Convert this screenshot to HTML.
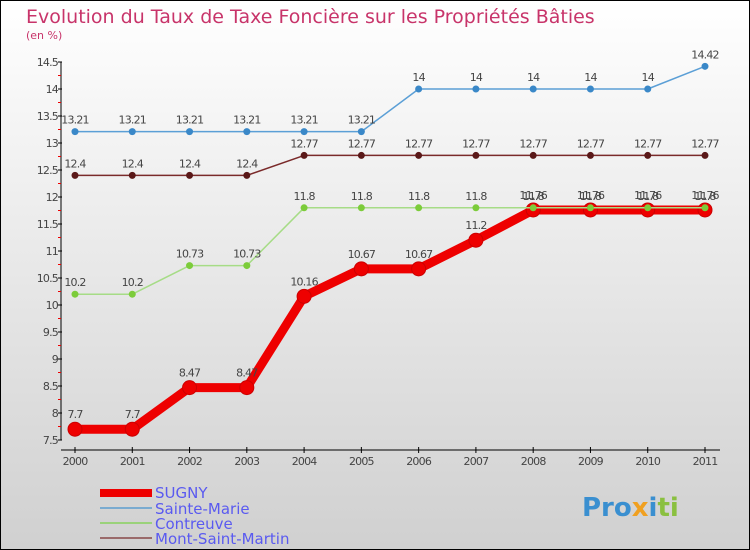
<!DOCTYPE html>
<html><head><meta charset="utf-8"><style>
body{margin:0}
svg{display:block;font-family:"DejaVu Sans","Liberation Sans",sans-serif}
</style></head><body>
<svg width="750" height="550" viewBox="0 0 750 550">
<defs><linearGradient id="bg" x1="0" y1="0" x2="0" y2="1"><stop offset="0" stop-color="#ffffff"/><stop offset="1" stop-color="#d0d0d0"/></linearGradient></defs>
<rect x="0.5" y="0.5" width="749" height="549" fill="url(#bg)" stroke="#000"/>
<text x="26" y="23" font-size="19" fill="#c8346a">Evolution du Taux de Taxe Foncière sur les Propriétés Bâties</text>
<text x="26" y="39" font-size="11" fill="#c8346a">(en %)</text>
<g id="axes"></g>
<g id="series"></g>
<g>
<rect x="100" y="489" width="52" height="8" fill="#e00"/>
<text x="155" y="498" font-size="15" fill="#5a5af0">SUGNY</text>
<rect x="100" y="507" width="52" height="2" fill="#7aabd0"/>
<text x="155" y="514" font-size="15" fill="#5a5af0">Sainte-Marie</text>
<rect x="100" y="522" width="52" height="2" fill="#9ad27a"/>
<text x="155" y="529" font-size="15" fill="#5a5af0">Contreuve</text>
<rect x="100" y="537" width="52" height="2" fill="#9a6a6a"/>
<text x="155" y="544" font-size="15" fill="#5a5af0">Mont-Saint-Martin</text>
</g>
<g font-size="26" font-weight="bold">
<text x="582" y="516"><tspan fill="#3a8fd0">Pro</tspan><tspan fill="#f0a020">x</tspan><tspan fill="#3a8fd0">i</tspan><tspan fill="#8ac040">ti</tspan></text>
</g>
</svg>
<script>
const years=["2000","2001","2002","2003","2004","2005","2006","2007","2008","2009","2010","2011"];
const yTicks=[7.5,8,8.5,9,9.5,10,10.5,11,11.5,12,12.5,13,13.5,14,14.5];
const sugny=[7.7,7.7,8.47,8.47,10.16,10.67,10.67,11.2,11.76,11.76,11.76,11.76];
const sainteMarie=[13.21,13.21,13.21,13.21,13.21,13.21,14,14,14,14,14,14.42];
const contreuve=[10.2,10.2,10.73,10.73,11.8,11.8,11.8,11.8,11.8,11.8,11.8,11.8];
const montSaintMartin=[12.4,12.4,12.4,12.4,12.77,12.77,12.77,12.77,12.77,12.77,12.77,12.77];
const NS="http://www.w3.org/2000/svg";
const xs=i=>75+i*(630/(years.length-1));
const ys=v=>440-(v-7.5)*54;
function mk(tag,attrs,parent){const e=document.createElementNS(NS,tag);for(const k in attrs)e.setAttribute(k,attrs[k]);parent.appendChild(e);return e;}
const ax=document.getElementById('axes');
let yl=mk('line',{x1:61,y1:ys(14.5),x2:61,y2:ys(7.5),stroke:'#000'},ax);


let xl=mk('line',{x1:61,y1:450,x2:720,y2:450,stroke:'#000'},ax);


yTicks.forEach(v=>{
 mk('line',{x1:58,y1:ys(v),x2:62,y2:ys(v),stroke:'#000'},ax);
 if(v<14.5)mk('line',{x1:58,y1:ys(v+0.25),x2:61,y2:ys(v+0.25),stroke:'#e00'},ax);
 const t=mk('text',{x:58,y:ys(v)+4,'font-size':11,fill:'#444','text-anchor':'end','letter-spacing':'-0.8'},ax);
 t.textContent=String(v);
 
 
});
years.forEach((y,i)=>{
 mk('line',{x1:xs(i),y1:447,x2:xs(i),y2:453,stroke:'#000'},ax);
 const t=mk('text',{x:xs(i),y:465,'font-size':11,fill:'#444','text-anchor':'middle','letter-spacing':'-0.8'},ax);
 t.textContent=y;
 
 
});
const sg=document.getElementById('series');
function draw(data,name,color,dot,w,r){
 const g=mk('g',{},sg);
 
 
 const p=mk('polyline',{points:data.map((v,i)=>xs(i)+','+ys(v)).join(' '),fill:'none',stroke:color,'stroke-width':w,'stroke-linejoin':'round'},g);
 
 
 data.forEach((v,i)=>{
  const c=mk('circle',{cx:xs(i),cy:ys(v),r:r,fill:dot,stroke:name==='sugny'?'#c00':'none'},g);
  
  
  const t=mk('text',{x:xs(i),y:ys(v)-(name==='sugny'?11:8),'font-size':11,fill:'#444','text-anchor':'middle','letter-spacing':'-0.8'},g);
  t.textContent=String(v);
  
  
 });
}
draw(sainteMarie,'sainte-marie','#5b9fd6','#3a88c8',1.5,3.5);
draw(montSaintMartin,'mont-saint-martin','#7a2a2a','#5a1818',1.5,3.5);
draw(sugny,'sugny','#ee0000','#ee0000',9,7);
draw(contreuve,'contreuve','#a6dc86','#7ccc3a',1.5,3.5);
</script>
</body></html>
